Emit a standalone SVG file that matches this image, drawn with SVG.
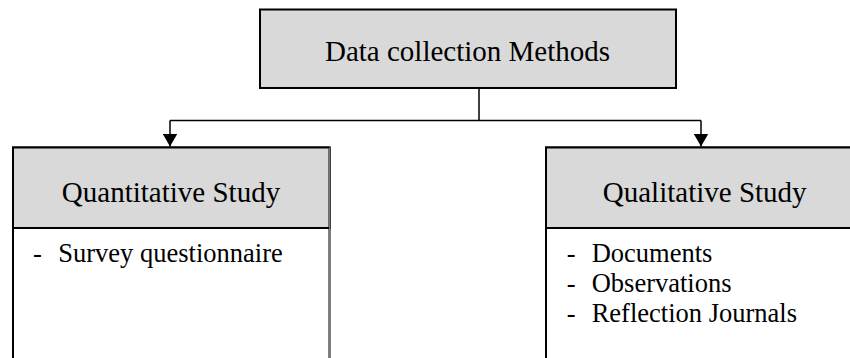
<svg xmlns="http://www.w3.org/2000/svg" width="850" height="358" viewBox="0 0 850 358">
<style>
.hdr{fill:#d9d9d9;stroke:#000;stroke-width:2}
.body{fill:#fff;stroke:#000;stroke-width:2}
.conn{fill:none;stroke:#000;stroke-width:1.5}
text{font-family:"Liberation Serif","Times New Roman",serif;fill:#000}
.t{font-size:29px;text-anchor:middle}
.i{font-size:26.5px}
</style>
<defs>
<marker id="arr" markerWidth="13" markerHeight="15" refX="13" refY="7.5" orient="auto" markerUnits="userSpaceOnUse" viewBox="0 0 13 15">
<path d="M0,0 L13,7.5 L0,15 Z" fill="#000"/>
</marker>
</defs>
<g id="connectors">
<path class="conn" d="M479,88 V120.5"/>
<path class="conn" d="M170,120.5 H701"/>
<path class="conn" d="M170,120.5 V146.5" marker-end="url(#arr)"/>
<path class="conn" d="M701,120.5 V146.5" marker-end="url(#arr)"/>
</g>
<g id="title">
<rect class="hdr" x="260" y="9.5" width="416" height="78.5"/>
<text class="t" x="467.5" y="61">Data collection Methods</text>
</g>
<g id="quantitative">
<rect class="body" x="13" y="147.5" width="316.5" height="220"/>
<rect class="hdr" x="13" y="147.5" width="316.5" height="80.5"/>
<line x1="329.5" y1="147.5" x2="329.5" y2="360" stroke="#777" stroke-width="1"/>
<text class="t" x="171" y="202">Quantitative Study</text>
<text class="i" x="33" y="261.5">-</text>
<text class="i" x="58.3" y="261.5">Survey questionnaire</text>
</g>
<g id="qualitative">
<rect class="body" x="546" y="147.5" width="320" height="220"/>
<rect class="hdr" x="546" y="147.5" width="320" height="80.5"/>
<text class="t" x="704.7" y="202">Qualitative Study</text>
<text class="i" x="566.7" y="261.5">-</text>
<text class="i" x="591.7" y="261.5">Documents</text>
<text class="i" x="566.7" y="291.5">-</text>
<text class="i" x="591.7" y="291.5">Observations</text>
<text class="i" x="566.7" y="321.5">-</text>
<text class="i" x="591.7" y="321.5">Reflection Journals</text>
</g>
</svg>
